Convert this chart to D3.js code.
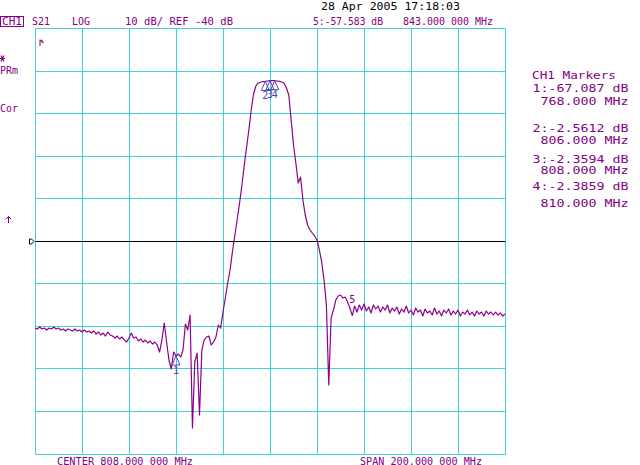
<!DOCTYPE html>
<html>
<head>
<meta charset="utf-8">
<script src="https://cdn.jsdelivr.net/npm/d3@7"></script>
<style>
  html, body { margin: 0; padding: 0; background: #ffffff; }
  svg { display: block; }
  text { font-family: "DejaVu Sans Mono", "Liberation Mono", monospace; font-size: 10px; }
</style>
</head>
<body>
<svg id="chart" width="640" height="465"></svg>
<script>
// ---------- DATA ----------
const sweepStartMHz = 708;
const sweepStopMHz = 908;
// S21 magnitude (dB) at each of the 201 sweep points (1 MHz apart)
const s21dB = [
  -60.51,-60.74,-60.27,-60.74,-60.51,-60.98,-60.51,-60.74,-60.27,-60.74,
  -60.51,-60.98,-60.74,-61.21,-60.74,-60.98,-61.21,-60.74,-61.21,-60.98,
  -61.45,-60.98,-61.45,-61.21,-61.69,-61.21,-61.92,-61.45,-62.15,-61.69,
  -62.39,-61.45,-62.15,-62.39,-62.86,-62.39,-63.09,-62.62,-63.33,-63.80,
  -62.86,-61.69,-62.86,-62.62,-63.56,-63.09,-63.80,-63.33,-64.03,-63.56,
  -64.27,-63.80,-64.50,-66.15,-63.33,-59.33,-63.80,-68.03,-70.14,-66.15,
  -67.087,-66.62,-67.32,-65.68,-59.57,-60.98,-57.45,-83.99,-68.50,-66.38,
  -80.95,-65.68,-63.33,-62.62,-62.39,-64.50,-63.80,-62.62,-59.80,-60.51,
  -56.75,-53.45,-49.93,-46.87,-42.64,-38.88,-35.12,-31.36,-27.13,-22.43,
  -18.20,-13.97,-9.27,-5.51,-3.63,-2.93,-2.75,-2.62,-2.5612,-2.45,
  -2.3594,-2.35,-2.3859,-2.45,-2.55,-2.70,-3.00,-4.10,-5.75,-11.62,
  -17.50,-21.73,-26.43,-25.02,-30.42,-33.95,-36.30,-37.47,-38.18,-38.88,
  -39.82,-42.17,-44.99,-49.22,-55.10,-73.90,-58.15,-56.28,-53.93,-52.99,
  -52.75,-53.45,-53.22,-54.39,-55.81,-57.583,-55.34,-56.75,-55.10,-56.28,
  -54.87,-56.51,-55.57,-56.98,-55.10,-56.04,-55.34,-56.75,-55.57,-56.28,
  -55.10,-56.98,-55.81,-56.51,-55.57,-57.22,-56.04,-56.75,-55.34,-56.98,
  -56.28,-57.45,-55.81,-56.75,-56.28,-57.69,-56.04,-56.98,-56.51,-57.45,
  -55.81,-57.22,-56.51,-57.69,-56.28,-56.98,-56.04,-57.45,-56.51,-57.22,
  -56.28,-57.69,-56.75,-57.22,-56.28,-57.45,-56.75,-57.69,-56.51,-57.22,
  -56.75,-57.69,-56.51,-57.22,-56.75,-57.45,-56.75,-57.45,-56.98,-57.69,
  -57.22
];
const markerIds = ["1", "2", "3", "4", "5"];
const markerMHz = [768, 806, 808, 810, 843];
const markerDB = [-67.087, -2.5612, -2.3594, -2.3859, -57.583];
const freqTicksMHz = [708, 728, 748, 768, 788, 808, 828, 848, 868, 888, 908];
const dbTicks = [10, 0, -10, -20, -30, -40, -50, -60, -70, -80, -90];
const refLevelDB = -40;
const markerListLines = [
  "1:-67.087 dB", "768.000 MHz",
  "2:-2.5612 dB", "806.000 MHz",
  "3:-2.3594 dB", "808.000 MHz",
  "4:-2.3859 dB", "810.000 MHz"
];

// ---------- DRAW ----------
const svg = d3.select("#chart");
const PURPLE = "#820082";
const TRACE = "#8c008c";
const GRID = "#40d2d6";
const MARK = "#5046b4";

const x = d3.scaleLinear().domain([sweepStartMHz, sweepStopMHz]).range([35, 505]);
const y = d3.scaleLinear().domain([-90, 10]).range([453.5, 28]);
const px = v => Math.round(x(v)) + 0.5;
const py = v => Math.round(y(v)) + 0.5;

const grid = svg.append("g");
grid.selectAll("line.v").data(freqTicksMHz).enter().append("line")
  .attr("x1", d => px(d)).attr("x2", d => px(d))
  .attr("y1", py(10)).attr("y2", py(-90))
  .attr("stroke", GRID).attr("stroke-width", 1);
grid.selectAll("line.h").data(dbTicks.filter(d => d !== refLevelDB)).enter().append("line")
  .attr("x1", px(sweepStartMHz)).attr("x2", px(sweepStopMHz))
  .attr("y1", d => py(d)).attr("y2", d => py(d))
  .attr("stroke", GRID).attr("stroke-width", 1);

// reference line
svg.append("line")
  .attr("x1", px(sweepStartMHz)).attr("x2", px(sweepStopMHz))
  .attr("y1", py(refLevelDB)).attr("y2", py(refLevelDB))
  .attr("stroke", "#000").attr("stroke-width", 1);
// reference position indicator
const ry = py(refLevelDB);
svg.append("path")
  .attr("d", `M29.5,${ry-2.5} L31.5,${ry-2.5} L34,${ry} L31.5,${ry+2.5} L29.5,${ry+2.5} Z`)
  .attr("fill", "none").attr("stroke", "#000").attr("stroke-width", 1);

// trace
const step = (sweepStopMHz - sweepStartMHz) / (s21dB.length - 1);
const line = d3.line()
  .x((d, i) => x(sweepStartMHz + i * step))
  .y(d => y(d));
svg.append("path").datum(s21dB)
  .attr("d", line)
  .attr("fill", "none").attr("stroke", TRACE).attr("stroke-width", 1.2)
  .attr("stroke-linejoin", "round");

// markers 1-4 : triangles with numbers below; marker 5 label only
markerMHz.forEach((f, k) => {
  const mx = x(f), my = y(markerDB[k]);
  if (k < 4) {
    svg.append("path")
      .attr("d", `M${mx},${my} L${mx-4},${my+9} L${mx+4},${my+9} Z`)
      .attr("fill", "none").attr("stroke", MARK).attr("stroke-width", 1);
    svg.append("text").attr("x", mx).attr("y", my + 17.5)
      .attr("text-anchor", "middle").attr("fill", MARK).text(markerIds[k]);
  } else {
    svg.append("text").attr("x", mx - 3).attr("y", my - 13)
      .attr("fill", PURPLE).text(markerIds[k]);
  }
});

// ---------- TEXT ----------
function txt(s, tx, ty, w, color, anchor) {
  const t = svg.append("text").attr("x", tx).attr("y", ty)
    .attr("fill", color || PURPLE).text(s);
  if (anchor) t.attr("text-anchor", anchor);
  if (w) t.attr("textLength", w).attr("lengthAdjust", "spacingAndGlyphs");
  return t;
}
// header
svg.append("rect").attr("x", 0.5).attr("y", 16.5).attr("width", 23).attr("height", 10)
  .attr("fill", "none").attr("stroke", PURPLE).attr("stroke-width", 1);
txt("CH1", 2, 25, 20);
txt("S21", 32, 25, 18);
txt("LOG", 72, 25, 18);
txt("10 dB/ REF -40 dB", 125, 25, 108);
txt("28 Apr 2005  17:18:03", 321, 9.5, 139, "#000");
txt("5:-57.583 dB", 313, 25, 70);
txt("843.000 000 MHz", 403, 25, 90);

// left annotations
svg.append("path").attr("d", "M0,58.5 H5 M1,55.5 L4,61.5 M4,55.5 L1,61.5")
  .attr("stroke", PURPLE).attr("stroke-width", 1.2).attr("fill", "none");
txt("PRm", 0, 73.5, 18);
txt("Cor", 0, 111.5, 18);
svg.append("path").attr("d", "M8.5,223 V216.5 M6,219 L8.5,216.5 L11,219")
  .attr("stroke", PURPLE).attr("stroke-width", 1).attr("fill", "none");
// small symbol top-left of grid
svg.append("path").attr("d", "M40,46 V39.5 M40,41 L42,40 L42,43 M42,41 L43.5,43")
  .attr("stroke", PURPLE).attr("stroke-width", 1).attr("fill", "none");

// marker list
txt("CH1 Markers", 532, 78.5, 84);
const listY = [92, 104.5, 131.5, 143.5, 162.5, 173.5, 189.5, 206.5];
markerListLines.forEach((s, k) => {
  txt(s, 628.5, listY[k], s.length * 8, PURPLE, "end");
});

// bottom
txt("CENTER 808.000 000 MHz", 57, 464.5, 136);
txt("SPAN 200.000 000 MHz", 360, 464.5, 122);
</script>
</body>
</html>
